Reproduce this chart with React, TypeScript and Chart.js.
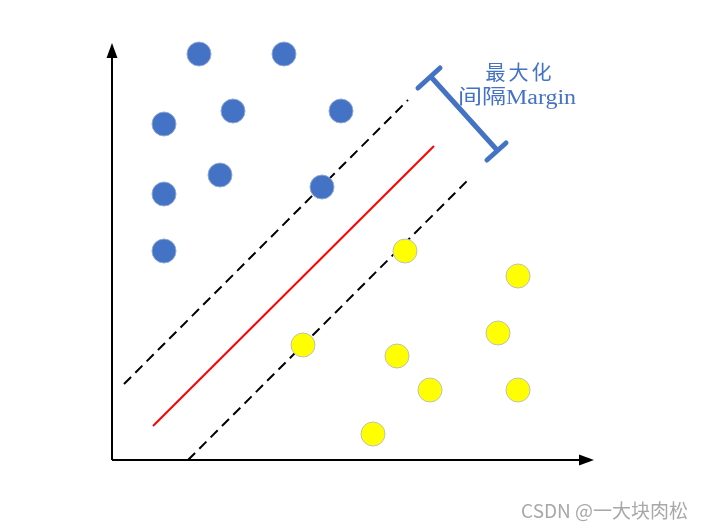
import React, { useEffect, useRef } from "react";
import { Chart, registerables } from "chart.js";

Chart.register(...registerables);

// Samples (x, y) measured from the axis origin
const blueX = [87, 172, 52, 121, 229, 52, 108, 210, 52];
const blueY = [406, 406, 336, 349, 349, 266, 285, 273, 209];
const yellowX = [293, 406, 191, 285, 386, 318, 406, 261];
const yellowY = [209, 184, 115, 104, 127, 70, 70, 26];

// Separating hyperplane and margin boundaries
const hyperX = [41, 322];
const hyperY = [34, 314];
const upperX = [12, 296];
const upperY = [76, 360];
const lowerX = [76, 358];
const lowerY = [0, 282];

// Margin bracket
const bracketX = [320, 385];
const bracketY = [382, 310];
const capTopX = [306, 328];
const capTopY = [372, 392];
const capBotX = [375, 394];
const capBotY = [300, 317];

// Axes
const yAxisX = [0, 0, 0];
const yAxisY = [0, 402, 417];
const xAxisX = [0, 467, 482];
const xAxisY = [0, 0, 0];

// Labels
const labelLines = ["最大化", "间隔Margin"];
const labelX = [408, 405];
const labelY = [380, 356];
const watermark = "CSDN @一大块肉松";

const BLUE = "#4472C4";
const LABEL_STRETCH = [1, 1.2];
const LABEL_SPACING = ["3px", "0px"];

const pts = (xs: number[], ys: number[]) => xs.map((x, i) => ({ x, y: ys[i] }));

const lineDs = (xs: number[], ys: number[], color: string, width: number, dash: number[] = [], cap: CanvasLineCap = "butt") => ({
  data: pts(xs, ys),
  showLine: true,
  borderColor: color,
  backgroundColor: color,
  borderWidth: width,
  borderDash: dash,
  borderCapStyle: cap,
  pointRadius: 0,
  pointHoverRadius: 0,
  order: 2,
});

const overlayPlugin = {
  id: "overlay",
  afterDatasetsDraw(chart: any) {
    const ctx = chart.ctx as CanvasRenderingContext2D;
    const xs = chart.scales.x;
    const ys = chart.scales.y;
    // arrowheads
    ctx.save();
    ctx.fillStyle = "#000";
    const yb = { x: xs.getPixelForValue(yAxisX[1]), y: ys.getPixelForValue(yAxisY[1]) };
    const yt = { x: xs.getPixelForValue(yAxisX[2]), y: ys.getPixelForValue(yAxisY[2]) };
    ctx.beginPath();
    ctx.moveTo(yt.x, yt.y);
    ctx.lineTo(yb.x - 5.5, yb.y);
    ctx.lineTo(yb.x + 5.5, yb.y);
    ctx.closePath();
    ctx.fill();
    const xb = { x: xs.getPixelForValue(xAxisX[1]), y: ys.getPixelForValue(xAxisY[1]) };
    const xt = { x: xs.getPixelForValue(xAxisX[2]), y: ys.getPixelForValue(xAxisY[2]) };
    ctx.beginPath();
    ctx.moveTo(xt.x, xt.y);
    ctx.lineTo(xb.x, xb.y - 5.5);
    ctx.lineTo(xb.x, xb.y + 5.5);
    ctx.closePath();
    ctx.fill();
    ctx.restore();

    // margin label
    labelLines.forEach((t, i) => {
      ctx.save();
      ctx.fillStyle = BLUE;
      ctx.font = "20px 'Liberation Serif', 'Times New Roman', 'Noto Sans CJK SC', serif";
      (ctx as any).letterSpacing = LABEL_SPACING[i];
      ctx.textAlign = "center";
      ctx.textBaseline = "alphabetic";
      const px = xs.getPixelForValue(labelX[i]);
      const py = ys.getPixelForValue(labelY[i]);
      ctx.translate(px, py);
      ctx.scale(LABEL_STRETCH[i], 1);
      ctx.fillText(t, 0, 0);
      ctx.restore();
    });

    // watermark
    ctx.save();
    ctx.font = "19px 'Noto Sans CJK SC', 'Noto Sans', sans-serif";
    ctx.textAlign = "right";
    ctx.textBaseline = "alphabetic";
    ctx.fillStyle = "#ffffff";
    ctx.fillText(watermark, chart.chartArea.right - 15, chart.chartArea.bottom - 11);
    ctx.fillStyle = "#a8a8a8";
    ctx.fillText(watermark, chart.chartArea.right - 16, chart.chartArea.bottom - 12);
    ctx.restore();
  },
};

export default function App() {
  const ref = useRef<HTMLCanvasElement>(null);
  useEffect(() => {
    if (!ref.current) return;
    const chart = new Chart(ref.current, {
      type: "scatter",
      data: {
        datasets: [
          {
            data: pts(blueX, blueY),
            backgroundColor: BLUE,
            borderColor: "#8fa9d9",
            borderWidth: 1,
            pointRadius: 12,
            pointHoverRadius: 12,
            order: 0,
          } as any,
          {
            data: pts(yellowX, yellowY),
            backgroundColor: "#FFFF00",
            borderColor: "#BFBFBF",
            borderWidth: 1,
            pointRadius: 12,
            pointHoverRadius: 12,
            order: 0,
          } as any,
          lineDs(hyperX, hyperY, "#FF0000", 2),
          lineDs(upperX, upperY, "#000000", 2, [10, 6]),
          lineDs(lowerX, lowerY, "#000000", 2, [10, 6]),
          lineDs(bracketX, bracketY, BLUE, 5, [], "round"),
          lineDs(capTopX, capTopY, BLUE, 5, [], "round"),
          lineDs(capBotX, capBotY, BLUE, 5, [], "round"),
          lineDs(yAxisX.slice(0, 2), yAxisY.slice(0, 2), "#000000", 2),
          lineDs(xAxisX.slice(0, 2), xAxisY.slice(0, 2), "#000000", 2),
        ] as any,
      },
      options: {
        animation: false,
        responsive: false,
        layout: { padding: 0, autoPadding: false } as any,
        plugins: { legend: { display: false }, tooltip: { enabled: false } },
        scales: {
          x: { type: "linear", min: -112, max: 592, display: false },
          y: { type: "linear", min: -70, max: 460, display: false },
        },
      },
      plugins: [overlayPlugin],
    });
    return () => chart.destroy();
  }, []);
  return (
    <div style={{ position: "fixed", left: 0, top: 0, width: 704, height: 530, background: "#fff" }}>
      <canvas ref={ref} width={704} height={530} style={{ display: "block" }} />
    </div>
  );
}
